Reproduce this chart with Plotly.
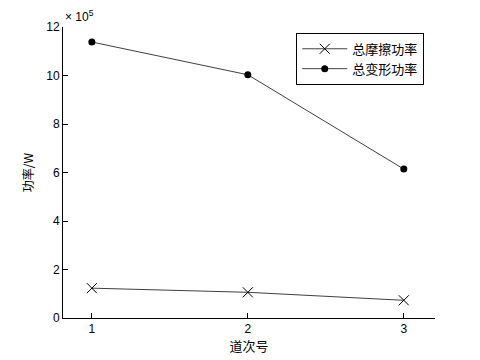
import plotly.graph_objects as go

passes = [1, 2, 3]
friction_power = [1.23e5, 1.06e5, 0.73e5]
deform_power = [11.38e5, 10.03e5, 6.14e5]
ytick_vals = [0, 2e5, 4e5, 6e5, 8e5, 10e5, 12e5]
ytick_text = ["0", "2", "4", "6", "8", "10", "12"]
names = ["总摩擦功率", "总变形功率"]

font_main = "Liberation Sans, Arial, sans-serif"
font_cjk = "Noto Sans CJK SC, sans-serif"

fig = go.Figure()
fig.add_trace(go.Scatter(
    x=passes, y=friction_power, name=names[0], mode="lines+markers",
    line=dict(color="#404040", width=1),
    marker=dict(symbol="x-thin", size=10, line=dict(color="#000000", width=1), color="#000000"),
))
fig.add_trace(go.Scatter(
    x=passes, y=deform_power, name=names[1], mode="lines+markers",
    line=dict(color="#404040", width=1),
    marker=dict(symbol="circle", size=7, color="#000000"),
))

axis_common = dict(
    showline=True, linecolor="#000000", linewidth=1, mirror=False,
    ticks="inside", ticklen=5, tickcolor="#000000", showgrid=False, zeroline=False,
    tickfont=dict(family=font_main, size=12, color="#000000"),
)

fig.update_layout(
    width=480, height=360,
    margin=dict(l=63, r=45, t=27, b=40),
    paper_bgcolor="#ffffff", plot_bgcolor="#ffffff",
    showlegend=True,
    legend=dict(
        x=0.627, y=0.98, xanchor="left", yanchor="top",
        bordercolor="#000000", borderwidth=1, bgcolor="#ffffff",
        font=dict(family=font_cjk, size=13, color="#000000"),
        tracegroupgap=0, itemwidth=45,
    ),
    xaxis=dict(range=[0.815, 3.2], tickvals=passes, ticktext=[str(p) for p in passes],
               title=dict(text="道次号", font=dict(family=font_cjk, size=13, color="#000000"), standoff=2),
               **axis_common),
    yaxis=dict(range=[0, 12e5], tickvals=ytick_vals, ticktext=ytick_text,
               title=dict(text="功率/W", font=dict(family=font_cjk, size=12, color="#000000"), standoff=10),
               **axis_common),
    annotations=[dict(
        text="× 10<sup>5</sup>", xref="paper", yref="paper", x=0.0, y=1.0,
        xanchor="left", yanchor="bottom", showarrow=False, yshift=1,
        font=dict(family=font_main, size=12, color="#000000"),
    )],
)

fig.write_html("out.html", config={"displayModeBar": False},
               post_script="document.body.style.margin='0';")
